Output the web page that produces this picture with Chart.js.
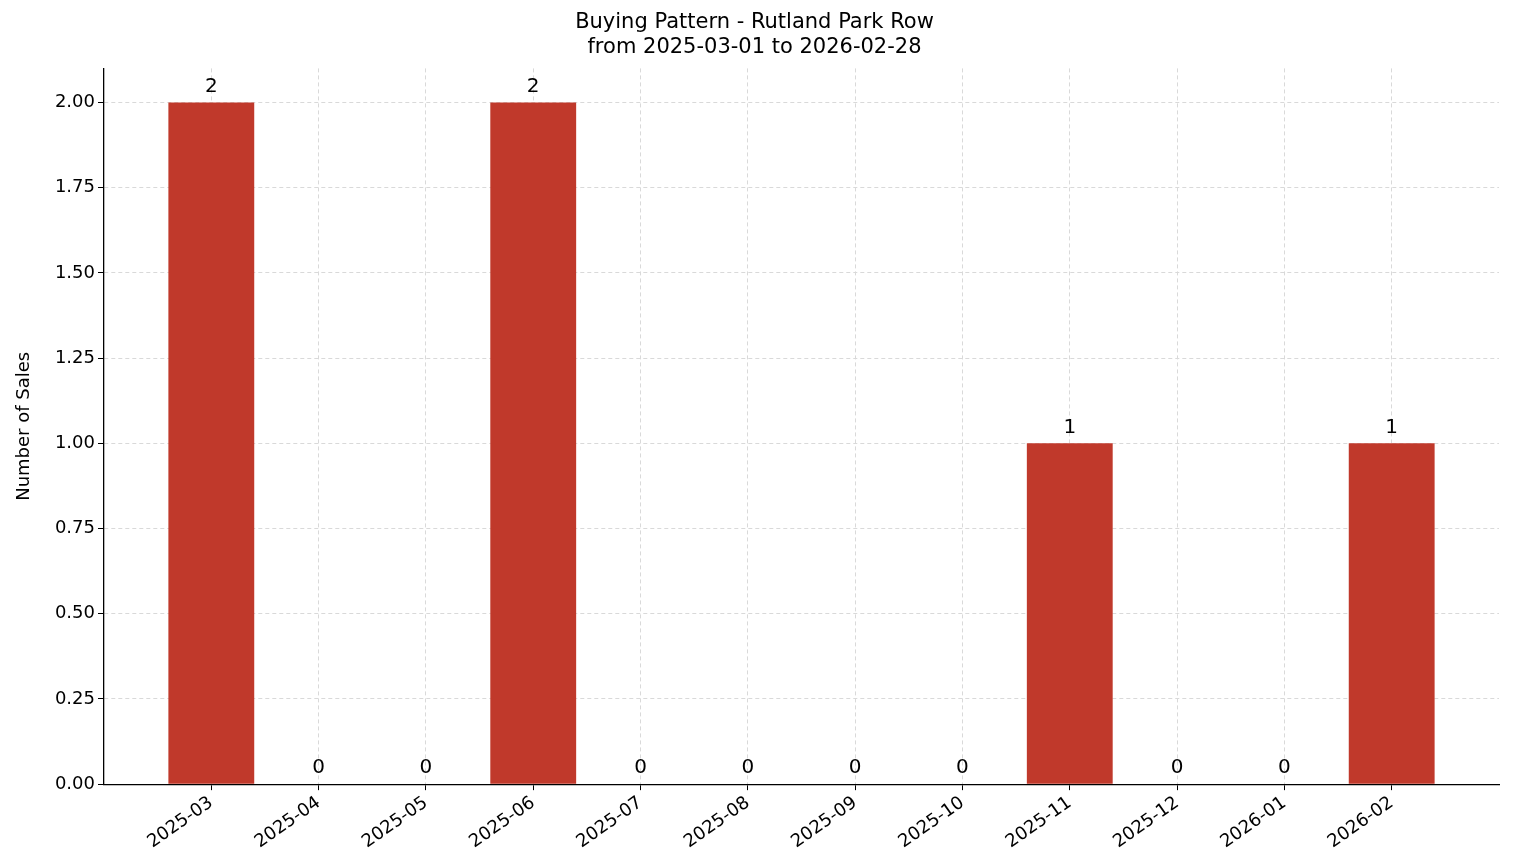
<!DOCTYPE html>
<html>
<head>
<meta charset="utf-8">
<script src="https://cdn.jsdelivr.net/npm/chart.js@4/dist/chart.umd.min.js"></script>
<style>
  html, body { margin: 0; padding: 0; background: #fff; }
  #wrap { width: 1514px; height: 863px; }
</style>
</head>
<body>
<div id="wrap"><canvas id="output" width="1514" height="863"></canvas></div>
<script>
const months = ['2025-03', '2025-04', '2025-05', '2025-06', '2025-07', '2025-08',
  '2025-09', '2025-10', '2025-11', '2025-12', '2026-01', '2026-02']
const sales = [2, 0, 0, 2, 0, 0, 0, 0, 1, 0, 0, 1]
const yTicks = [0, 0.25, 0.5, 0.75, 1, 1.25, 1.5, 1.75, 2]

const font = 'DejaVu Sans'

// write the count above each bar
const valueLabels = {
  id: 'valueLabels',
  afterDatasetsDraw (chart) {
    let ctx = chart.ctx
    let meta = chart.getDatasetMeta(0)
    ctx.save()
    ctx.font = '20px ' + font
    ctx.fillStyle = '#000'
    ctx.textAlign = 'center'
    ctx.textBaseline = 'bottom'
    meta.data.forEach(function (bar, i) {
      ctx.fillText(String(sales[i]), bar.x, bar.y - 6)
    })
    ctx.restore()
  }
}

var ctx = document.getElementById('output').getContext('2d')
var myChart = new Chart(ctx, {
  type: 'bar',
  data: {
    datasets: [{
      data: sales.map(function (v, i) { return { x: i, y: v } }),
      backgroundColor: '#c0392b',
      borderWidth: 0,
      categoryPercentage: 0.8,
      barPercentage: 1
    }]
  },
  options: {
    responsive: false,
    animation: false,
    layout: { padding: { left: 10, right: 15, top: 0, bottom: 8 } },
    plugins: {
      legend: { display: false },
      tooltip: { enabled: false },
      title: {
        display: true,
        text: ['Buying Pattern - Rutland Park Row', 'from 2025-03-01 to 2026-02-28'],
        color: '#000',
        font: { family: font, size: 21, weight: 'normal', lineHeight: 1.2 },
        padding: { top: 10, bottom: 8 }
      }
    },
    scales: {
      x: {
        type: 'linear',
        min: -1,
        max: 12,
        offset: false,
        afterBuildTicks (scale) {
          scale.ticks = months.map(function (m, i) { return { value: i } })
        },
        ticks: {
          callback: function (v) { return months[v] },
          maxRotation: 35,
          minRotation: 35,
          color: '#000',
          font: { family: font, size: 18 },
          padding: 2
        },
        grid: { offset: false, color: '#d9d9d9', tickColor: '#000', tickLength: 6, drawTicks: true },
        border: { color: '#000', width: 1.3, dash: [4, 3] }
      },
      y: {
        min: 0,
        max: 2.1,
        afterBuildTicks (scale) {
          scale.ticks = yTicks.map(function (v) { return { value: v } })
        },
        afterFit (scale) { scale.width = 94 },
        ticks: {
          callback: function (v) { return v.toFixed(2) },
          color: '#000',
          font: { family: font, size: 18 }
        },
        title: {
          display: true,
          text: 'Number of Sales',
          color: '#000',
          font: { family: font, size: 18 }
        },
        grid: { color: '#d9d9d9', tickColor: '#000', tickLength: 6 },
        border: { color: '#000', width: 1.3, dash: [4, 3] }
      }
    }
  },
  plugins: [valueLabels]
})
</script>
</body>
</html>
